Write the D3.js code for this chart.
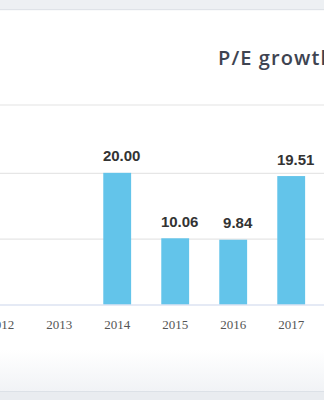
<!DOCTYPE html>
<html>
<head>
<meta charset="utf-8">
<script src="https://cdn.jsdelivr.net/npm/d3@7"></script>
<style>
html,body{margin:0;padding:0;background:#fff;overflow:hidden;}
svg{display:block;}
</style>
</head>
<body>
<div id="chart"></div>
<script>
// Data
const years = ["2012","2013","2014","2015","2016","2017"];
const peValues = [null, null, 20.00, 10.06, 9.84, 19.51];
const yTicks = [0, 10, 20];
const titleText = "P/E growth";

const W = 324, H = 400;
const svg = d3.select("#chart").append("svg").attr("width", W).attr("height", H);

// background: top strip, card, bottom fade
const defs = svg.append("defs");
const grad = defs.append("linearGradient").attr("id","fade").attr("x1",0).attr("y1",0).attr("x2",0).attr("y2",1);
grad.append("stop").attr("offset","0%").attr("stop-color","#ffffff");
grad.append("stop").attr("offset","100%").attr("stop-color","#f1f3f6");

svg.append("rect").attr("x",0).attr("y",0).attr("width",W).attr("height",H).attr("fill","#ffffff");
svg.append("rect").attr("x",0).attr("y",0).attr("width",W).attr("height",9).attr("fill","#edf0f3");
svg.append("rect").attr("x",0).attr("y",9).attr("width",W).attr("height",1.2).attr("fill","#dfe3e8");
svg.append("rect").attr("x",0).attr("y",350).attr("width",W).attr("height",41).attr("fill","url(#fade)");
svg.append("rect").attr("x",0).attr("y",391).attr("width",W).attr("height",1.2).attr("fill","#dce1e7");
svg.append("rect").attr("x",0).attr("y",392).attr("width",W).attr("height",8).attr("fill","#e9ecf0");

// title (cut by the right edge, as in the reference)
svg.append("text")
  .attr("x", 218).attr("y", 65)
  .attr("font-family", "'Open Sans', Lato, sans-serif")
  .attr("font-weight", 600)
  .attr("font-size", 20)
  .attr("letter-spacing", 1.1)
  .attr("fill", "#3e4451")
  .text(titleText);

// header separator
svg.append("line").attr("x1",0).attr("x2",W).attr("y1",105).attr("y2",105)
  .attr("stroke","#e3e3e3").attr("stroke-width",1.2);

// scales
const step = 58;
const x = d3.scaleBand().domain(years)
  .range([1.2 - step/2, 1.2 - step/2 + step*years.length])
  .paddingInner(0.52).paddingOuter(0.26);
const y = d3.scaleLinear().domain([0, 30]).range([304.5, 107]);

// gridlines
const grid = svg.append("g")
  .call(d3.axisLeft(y).tickValues(yTicks.filter(t => t > 0)).tickSize(-W).tickFormat(""));
grid.select(".domain").remove();
grid.selectAll(".tick line").attr("stroke","#e6e6e6").attr("stroke-width",1.2);

// bars
const data = years.map((yr,i)=>({year:yr, v:peValues[i]})).filter(d => d.v != null);
svg.append("g").selectAll("rect").data(data).join("rect")
  .attr("x", d => x(d.year))
  .attr("width", x.bandwidth())
  .attr("y", d => y(d.v))
  .attr("height", d => y(0) - y(d.v))
  .attr("fill", "#63c4ea");

// x axis
const xAxis = svg.append("g").attr("transform", `translate(0,${y(0)})`)
  .call(d3.axisBottom(x).tickSize(0).tickPadding(15));
xAxis.select(".domain").attr("stroke","#ccd6eb").attr("stroke-width",1.2)
  .attr("d", `M0,0.5H${W}`);
xAxis.selectAll("text")
  .attr("font-family","'Liberation Serif','DejaVu Serif',serif")
  .attr("font-size",13)
  .attr("fill","#555555");

// data labels
svg.append("g").selectAll("text").data(data).join("text")
  .attr("x", d => x(d.year) + x.bandwidth()/2 + 4.5)
  .attr("y", d => y(d.v) - 11.5)
  .attr("text-anchor","middle")
  .attr("font-family","'Liberation Sans', Arial, sans-serif")
  .attr("font-weight","bold")
  .attr("font-size",15)
  .attr("fill","#333333")
  .text(d => d3.format(".2f")(d.v));
</script>
</body>
</html>
